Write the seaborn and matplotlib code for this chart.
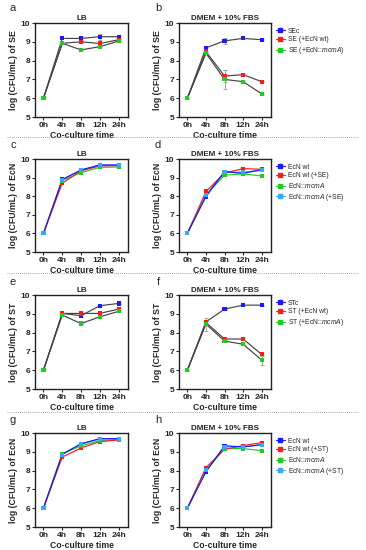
"""
Co-culture growth curves (log CFU/mL) in LB and DMEM + 10% FBS.
"""
import matplotlib.pyplot as plt
import numpy as np
import pandas as pd
import seaborn as sns
from matplotlib.lines import Line2D

# time points (categorical x axis)
TIMES = ["0h", "4h", "8h", "12h", "24h"]

# colours of the series, in legend order
BLUE = "#1a1aff"
RED = "#ff1a1a"
GREEN = "#1fcc1f"
LIGHT_BLUE = "#33a8ff"

# legend labels
LABELS_SE = ["SEc", "SE (+EcN wt)", r"SE (+EcN::$\it{mcmA}$)"]
LABELS_ST = ["STc", "ST (+EcN wt)", r"ST (+EcN::$\it{mcmA}$)"]
LABELS_ECN_SE = ["EcN wt", "EcN wt (+SE)", r"EcN::$\it{mcmA}$", r"EcN::$\it{mcmA}$ (+SE)"]
LABELS_ECN_ST = ["EcN wt", "EcN wt (+ST)", r"EcN::$\it{mcmA}$", r"EcN::$\it{mcmA}$ (+ST)"]

# panel a: SE in LB
a_sec = [6.0, 9.18, 9.18, 9.27, 9.27]
a_se_wt = [6.0, 8.92, 9.0, 8.91, 9.11]
a_se_mcma = [6.0, 8.92, 8.57, 8.74, 9.04]
a_err = [[0, 0, 0.15, 0.15, 0.1], [0, 0, 0.08, 0.1, 0.05], [0, 0, 0.03, 0.04, 0.04]]

# panel b: SE in DMEM
b_sec = [6.0, 8.68, 9.05, 9.18, 9.11]
b_se_wt = [6.0, 8.48, 7.18, 7.25, 6.88]
b_se_mcma = [6.0, 8.39, 7.0, 6.88, 6.23]
b_err = [[0, 0.03, 0.15, 0.03, 0.03], [0, 0.05, 0.3, 0.03, 0.04], [0, 0.05, 0.5, 0.03, 0.07]]

# panel c: EcN in LB (with SE)
c_wt = [6.0, 8.9, 9.41, 9.68, 9.68]
c_wt_se = [6.0, 8.7, 9.36, 9.63, 9.64]
c_mcma = [6.0, 8.84, 9.27, 9.55, 9.57]
c_mcma_se = [6.0, 8.88, 9.4, 9.66, 9.66]

# panel d: EcN in DMEM (with SE)
d_wt = [6.0, 7.98, 9.32, 9.23, 9.43]
d_wt_se = [6.0, 8.25, 9.25, 9.48, 9.45]
d_mcma = [6.0, 8.07, 9.13, 9.2, 9.09]
d_mcma_se = [6.0, 8.07, 9.29, 9.29, 9.39]

# panel e: ST in LB
e_stc = [6.0, 9.02, 8.9, 9.43, 9.55]
e_st_wt = [6.0, 9.02, 9.02, 9.02, 9.25]
e_st_mcma = [6.0, 8.93, 8.48, 8.84, 9.13]
e_err = [[0, 0.03, 0.05, 0.04, 0.03], [0, 0.03, 0.1, 0.06, 0.05], [0, 0.03, 0.03, 0.04, 0.04]]

# panel f: ST in DMEM
f_stc = [6.0, 8.57, 9.25, 9.46, 9.46]
f_st_wt = [6.0, 8.54, 7.66, 7.66, 6.84]
f_st_mcma = [6.0, 8.45, 7.55, 7.38, 6.54]
f_err = [[0, 0.05, 0.03, 0.02, 0.02], [0, 0.1, 0.05, 0.05, 0.1], [0, 0.35, 0.05, 0.06, 0.25]]

# panel g: EcN in LB (with ST)
g_wt = [6.0, 8.87, 9.43, 9.7, 9.7]
g_wt_st = [6.0, 8.72, 9.2, 9.54, 9.63]
g_mcma = [6.0, 8.9, 9.31, 9.6, 9.65]
g_mcma_st = [6.0, 8.85, 9.4, 9.68, 9.68]

# panel h: EcN in DMEM (with ST)
h_wt = [6.0, 7.93, 9.32, 9.26, 9.38]
h_wt_st = [6.0, 8.16, 9.13, 9.33, 9.49]
h_mcma = [6.0, 8.02, 9.17, 9.17, 9.06]
h_mcma_st = [6.0, 8.02, 9.26, 9.26, 9.38]

sns.set_theme(style="ticks")
plt.rcParams["font.family"] = ["Liberation Sans", "DejaVu Sans"]
plt.rcParams["mathtext.fontset"] = "custom"
plt.rcParams["mathtext.rm"] = "Liberation Sans"
plt.rcParams["mathtext.it"] = "Liberation Sans:italic"


def to_frame(series, labels):
    rows = []
    for values, label in zip(series, labels):
        for i, v in enumerate(values):
            rows.append({"time": i, "value": v, "strain": label})
    return pd.DataFrame(rows)


def growth_panel(ax, series, labels, colors, title, ylabel, gray_lines, errors=None):
    df = to_frame(series, labels)
    palette = dict(zip(labels, colors))
    # draw in reverse order so the first series lies on top
    order = labels[::-1]
    if gray_lines:
        sns.lineplot(data=df, x="time", y="value", units="strain", estimator=None,
                     color="#444444", lw=0.85, ax=ax, legend=False)
    else:
        sns.lineplot(data=df, x="time", y="value", hue="strain", hue_order=order,
                     palette=palette, lw=0.85, ax=ax, legend=False)
    if errors is not None:
        for values, err in zip(series, errors):
            ax.errorbar(np.arange(len(TIMES)), values, yerr=err, fmt="none",
                        ecolor="#999999", elinewidth=0.6, capsize=1.2, capthick=0.6)
    sns.scatterplot(data=df, x="time", y="value", hue="strain", hue_order=order,
                    palette=palette, marker="s", s=9, linewidth=0, ax=ax,
                    legend=False, zorder=5)

    ax.set_xlim(-0.45, 4.5)
    ax.set_ylim(5, 10)
    ax.set_xticks(range(len(TIMES)))
    ax.set_xticklabels(TIMES)
    ax.set_yticks([5, 6, 7, 8, 9, 10])
    ax.tick_params(labelsize=6, length=2, width=0.8, pad=1.5)
    for lab in ax.get_xticklabels() + ax.get_yticklabels():
        lab.set_fontweight("bold")
    for sp in ax.spines.values():
        sp.set_visible(True)
        sp.set_linewidth(1.0)
        sp.set_color("#222222")
    ax.set_title(title, fontsize=5.8, fontweight="bold", pad=2.5)
    ax.set_xlabel("Co-culture time", fontsize=6.2, fontweight="bold", labelpad=1.5)
    ax.set_ylabel(ylabel, fontsize=6.3, fontweight="bold", labelpad=2)


def add_legend(ax, labels, colors):
    handles = [Line2D([], [], color=c, marker="s", markersize=2.7, lw=0.8) for c in colors]
    ax.legend(handles, labels, loc="upper left", bbox_to_anchor=(1.0, 1.0),
              frameon=False, fontsize=4.9, handlelength=1.3, handletextpad=0.5,
              labelspacing=0.25, borderaxespad=0.3)


fig = plt.figure(figsize=(3.66, 5.5), dpi=100)

W, H = 366, 550
row_tops = [23, 159, 295, 433]
row_bottoms = [117, 252, 389, 527]
col_left = [35, 179]
col_right = [128, 271]

axes = []
for r in range(4):
    for c in range(2):
        ax = fig.add_axes([col_left[c] / W, 1 - row_bottoms[r] / H,
                           (col_right[c] - col_left[c]) / W,
                           (row_bottoms[r] - row_tops[r]) / H])
        axes.append(ax)

three = [BLUE, RED, GREEN]
four = [BLUE, RED, GREEN, LIGHT_BLUE]

growth_panel(axes[0], [a_sec, a_se_wt, a_se_mcma], LABELS_SE, three, "LB",
             "log (CFU/mL) of SE", True, a_err)
growth_panel(axes[1], [b_sec, b_se_wt, b_se_mcma], LABELS_SE, three, "DMEM + 10% FBS",
             "log (CFU/mL) of SE", True, b_err)
add_legend(axes[1], LABELS_SE, three)

growth_panel(axes[2], [c_wt, c_wt_se, c_mcma, c_mcma_se], LABELS_ECN_SE, four, "LB",
             "log (CFU/mL) of EcN", False)
growth_panel(axes[3], [d_wt, d_wt_se, d_mcma, d_mcma_se], LABELS_ECN_SE, four,
             "DMEM + 10% FBS", "log (CFU/mL) of EcN", False)
add_legend(axes[3], LABELS_ECN_SE, four)

growth_panel(axes[4], [e_stc, e_st_wt, e_st_mcma], LABELS_ST, three, "LB",
             "log (CFU/mL) of ST", True, e_err)
growth_panel(axes[5], [f_stc, f_st_wt, f_st_mcma], LABELS_ST, three, "DMEM + 10% FBS",
             "log (CFU/mL) of ST", True, f_err)
add_legend(axes[5], LABELS_ST, three)

growth_panel(axes[6], [g_wt, g_wt_st, g_mcma, g_mcma_st], LABELS_ECN_ST, four, "LB",
             "log (CFU/mL) of EcN", False)
growth_panel(axes[7], [h_wt, h_wt_st, h_mcma, h_mcma_st], LABELS_ECN_ST, four,
             "DMEM + 10% FBS", "log (CFU/mL) of EcN", False)
add_legend(axes[7], LABELS_ECN_ST, four)

# panel letters
letter_y = [8, 145, 282, 420]
for r, y in enumerate(letter_y):
    for c, x in enumerate([13, 158]):
        fig.text(x / W, 1 - y / H, "abcdefgh"[2 * r + c], fontsize=8,
                 ha="center", va="center")

# dotted separators between rows
for y in [137, 273, 412]:
    fig.add_artist(Line2D([0.02, 0.98], [1 - y / H, 1 - y / H], color="#888888",
                          lw=0.6, ls=(0, (1, 1.5))))

fig.savefig("out.png", dpi=100)
